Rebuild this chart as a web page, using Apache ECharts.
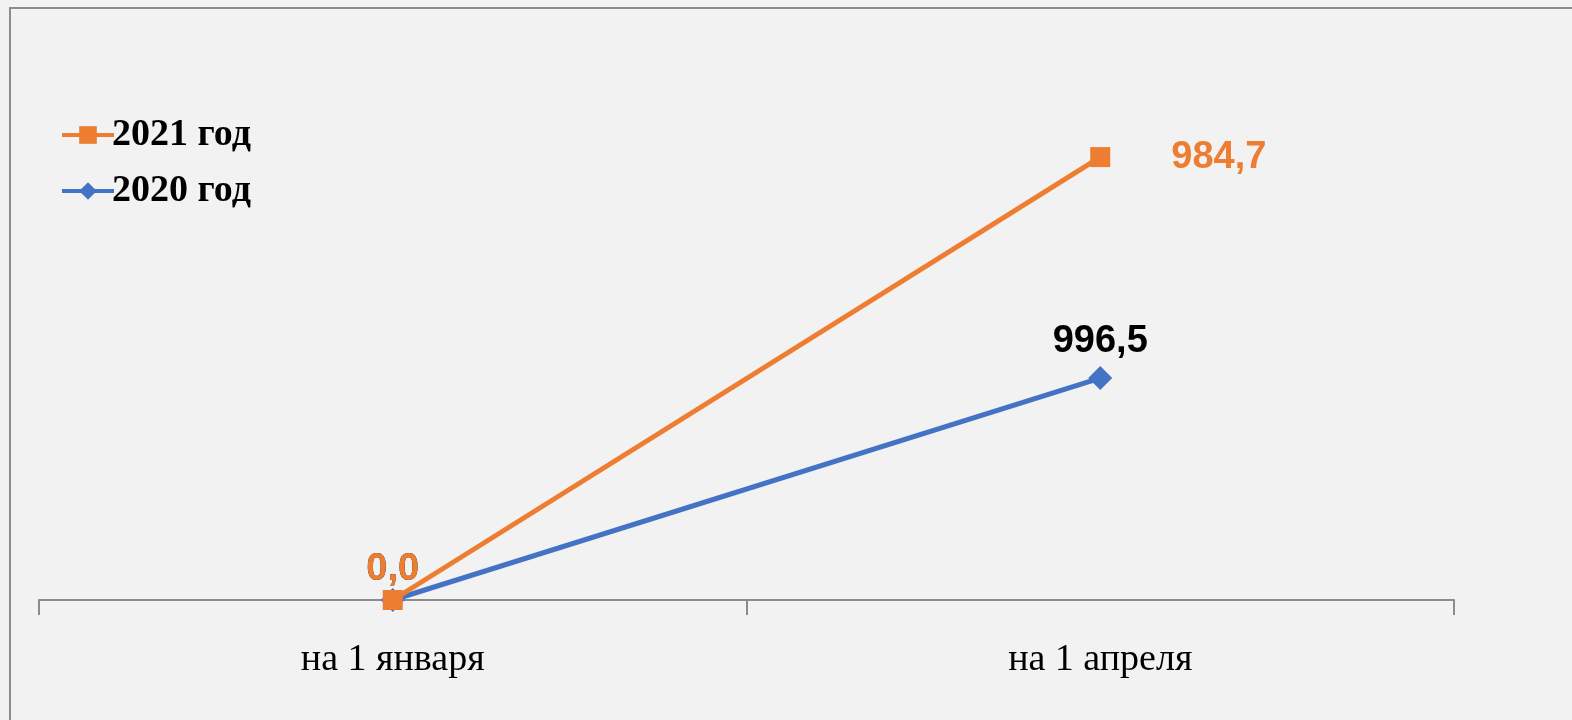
<!DOCTYPE html>
<html>
<head>
<meta charset="utf-8">
<script src="https://cdn.jsdelivr.net/npm/echarts@6/dist/echarts.min.js"></script>
<style>
html,body{margin:0;padding:0;background:#f2f2f2;overflow:hidden;}
#c{width:1572px;height:720px;}
</style>
</head>
<body>
<div id="c"></div>
<script>
const categories = ['на 1 января', 'на 1 апреля'];
const values2021 = [0.0, 984.7];
const values2020 = [0.0, 996.5];
const seriesNames = ['2021 год', '2020 год'];
const axisMax2021 = 1245;
const axisMax2020 = 2514;

const fmt = p => Number(p.value).toFixed(1).replace('.', ',');
const chart = echarts.init(document.getElementById('c'));
chart.setOption({
  backgroundColor: '#f2f2f2',
  animation: false,
  graphic: [{
    type: 'polyline',
    shape: { points: [[10, 720], [10, 8], [1572, 8]] },
    style: { stroke: '#8c8c8c', lineWidth: 2, fill: null },
    silent: true
  }],
  grid: { left: 39, right: 118, top: 40, bottom: 120 },
  legend: {
    data: seriesNames,
    orient: 'vertical',
    left: 55,
    top: 111,
    itemWidth: 52,
    itemHeight: 22,
    itemGap: 18,
    lineStyle: { width: 4 },
    textStyle: { fontFamily: 'Liberation Serif', fontWeight: 'bold', fontSize: 38, color: '#000', padding: [0, 0, 0, -7] }
  },
  xAxis: {
    type: 'category',
    data: categories,
    boundaryGap: true,
    axisLine: { lineStyle: { color: '#8c8c8c', width: 2 } },
    axisTick: { show: true, length: 15, lineStyle: { color: '#8c8c8c', width: 2 } },
    axisLabel: { fontFamily: 'Liberation Serif', fontSize: 38, color: '#000', margin: 41 }
  },
  yAxis: [
    { type: 'value', min: 0, max: axisMax2020, show: false, splitLine: { show: false } },
    { type: 'value', min: 0, max: axisMax2021, show: false, splitLine: { show: false } }
  ],
  series: [
    {
      name: seriesNames[1],
      type: 'line',
      yAxisIndex: 0,
      data: [
        { value: values2020[0], label: { distance: -1 } },
        { value: values2020[1] }
      ],
      symbol: 'diamond',
      symbolSize: 24,
      lineStyle: { color: '#4472c4', width: 5 },
      itemStyle: { color: '#4472c4' },
      label: {
        show: true, position: 'top', distance: 6, formatter: fmt,
        fontFamily: 'Liberation Sans', fontWeight: 'bold', fontSize: 38, color: '#000'
      }
    },
    {
      name: seriesNames[0],
      type: 'line',
      yAxisIndex: 1,
      data: [
        { value: values2021[0], label: { position: 'top', distance: 1 } },
        { value: values2021[1], label: { position: 'right', distance: 61 } }
      ],
      symbol: 'rect',
      symbolSize: 20,
      lineStyle: { color: '#ed7d31', width: 5 },
      itemStyle: { color: '#ed7d31' },
      label: {
        show: true, formatter: fmt,
        fontFamily: 'Liberation Sans', fontWeight: 'bold', fontSize: 38, color: '#ed7d31'
      }
    }
  ]
});
</script>
</body>
</html>
